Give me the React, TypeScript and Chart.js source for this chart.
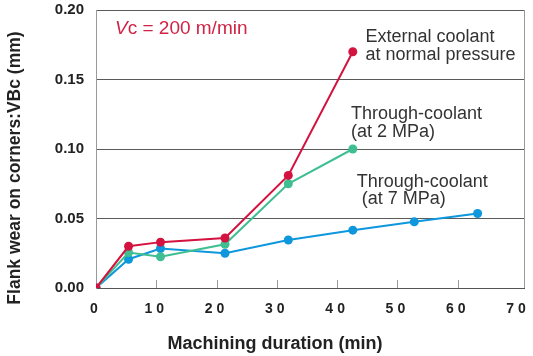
import React, { useEffect, useRef } from "react";
import { Chart, registerables } from "chart.js";

Chart.register(...registerables);

// ---- data ----
const externalX = [0, 5.4, 10.7, 21.4, 31.9, 42.6];
const externalY = [0, 0.03, 0.033, 0.036, 0.081, 0.17];
const through2X = [0, 5.4, 10.7, 21.4, 31.9, 42.6];
const through2Y = [0, 0.0255, 0.0225, 0.0315, 0.075, 0.1];
const through7X = [0, 5.4, 10.7, 21.4, 31.9, 42.6, 52.8, 63.3];
const through7Y = [0, 0.0207, 0.0284, 0.025, 0.0345, 0.0416, 0.0476, 0.0536];
const xTicks = [0, 10, 20, 30, 40, 50, 60, 70];
const yTicks = [0, 0.05, 0.1, 0.15, 0.2];
const xTitle = "Machining duration (min)";
const yTitle = "Flank wear on corners:VBc (mm)";

const RED = "#d3123f";
const GREEN = "#3fbf91";
const BLUE = "#0e97dc";

// annotation anchors in data units
const labels = [
  { lines: ["External coolant", "at normal pressure"], x: [44.7, 44.7], y: [0.1772, 0.164] },
  { lines: ["Through-coolant", "(at 2 MPa)"], x: [42.3, 42.3], y: [0.1214, 0.1086] },
  { lines: ["Through-coolant", "(at 7 MPa)"], x: [43.25, 44.1], y: [0.0729, 0.0602] },
];
const vcLabel = { x: 3.15, y: 0.1827 };

const FONT = "'Liberation Sans', Arial, Helvetica, sans-serif";

const decorPlugin = {
  id: "decor",
  beforeDraw(chart: any) {
    const xs = chart.scales.x;
    if (xs && !xs.__patched) {
      const orig = xs.drawLabels.bind(xs);
      xs.drawLabels = function (area: any) {
        const ctx = chart.ctx;
        ctx.save();
        (ctx as any).letterSpacing = "4px";
        orig(area);
        ctx.restore();
      };
      xs.__patched = true;
    }
  },
  beforeDatasetsDraw(chart: any) {
    const { ctx, chartArea, scales } = chart;
    const xs = scales.x;
    ctx.save();
    ctx.strokeStyle = "#9a9a9a";
    ctx.lineWidth = 1;
    // right border
    ctx.beginPath();
    ctx.moveTo(Math.round(chartArea.right) + 0.5, chartArea.top);
    ctx.lineTo(Math.round(chartArea.right) + 0.5, chartArea.bottom);
    ctx.stroke();
    // inner tick marks
    xTicks.forEach((v) => {
      if (v === 0 || v === 70) return;
      const px = Math.round(xs.getPixelForValue(v)) + 0.5;
      ctx.beginPath();
      ctx.moveTo(px, chartArea.bottom);
      ctx.lineTo(px, chartArea.bottom - 8);
      ctx.stroke();
    });
    ctx.restore();
  },
  afterDraw(chart: any) {
    const { ctx, scales } = chart;
    const xs = scales.x;
    const ys = scales.y;
    ctx.save();
    // axis titles
    ctx.fillStyle = "#222222";
    ctx.font = `bold 18px ${FONT}`;
    ctx.textAlign = "center";
    ctx.textBaseline = "middle";
    ctx.fillText(xTitle, 275, 344);
    ctx.save();
    ctx.translate(15, 168);
    ctx.rotate(-Math.PI / 2);
    ctx.font = `bold 17.5px ${FONT}`;
    ctx.fillText(yTitle, 0, 0);
    ctx.restore();

    ctx.textBaseline = "alphabetic";
    ctx.textAlign = "left";
    ctx.fillStyle = "#333333";
    ctx.font = `18px ${FONT}`;
    labels.forEach((l) => {
      l.lines.forEach((t, i) => {
        ctx.fillText(t, xs.getPixelForValue(l.x[i]), ys.getPixelForValue(l.y[i]));
      });
    });
    // Vc = 200 m/min
    const vx = xs.getPixelForValue(vcLabel.x);
    const vy = ys.getPixelForValue(vcLabel.y);
    ctx.fillStyle = "#d02345";
    ctx.font = `italic 19px ${FONT}`;
    ctx.fillText("V", vx, vy);
    const w = ctx.measureText("V").width;
    ctx.font = `19px ${FONT}`;
    ctx.fillText("c = 200 m/min", vx + w, vy);
    ctx.restore();
  },
};

export default function App() {
  const ref = useRef<HTMLCanvasElement>(null);
  useEffect(() => {
    document.body.style.margin = "0";
    const mk = (label: string, xs: number[], ys: number[], color: string) => ({
      label,
      data: xs.map((x, i) => ({ x, y: ys[i] })),
      borderColor: color,
      backgroundColor: color,
      borderWidth: 2,
      pointRadius: 4.5,
      pointBorderWidth: 0,
      pointBackgroundColor: color,
      tension: 0,
    });
    const chart = new Chart(ref.current!, {
      type: "line",
      data: {
        datasets: [
          mk("External coolant at normal pressure", externalX, externalY, RED),
          mk("Through-coolant (at 2 MPa)", through2X, through2Y, GREEN),
          mk("Through-coolant (at 7 MPa)", through7X, through7Y, BLUE),
        ],
      },
      options: {
        animation: false,
        responsive: false,
        maintainAspectRatio: false,
        layout: { padding: { top: 10, right: 9, left: 0, bottom: 0 } },
        plugins: { legend: { display: false }, tooltip: { enabled: false } },
        scales: {
          x: {
            type: "linear",
            min: 0,
            max: 71,
            afterBuildTicks: (s: any) => {
              s.ticks = xTicks.map((v) => ({ value: v }));
            },
            afterFit: (s: any) => {
              s.height = 68;
              s.paddingLeft = 0;
              s.paddingRight = 0;
            },
            grid: { display: false, drawTicks: false },
            border: { color: "#555555", width: 1 },
            ticks: {
              padding: 13,
              color: "#222222",
              font: { family: FONT, size: 14, weight: "bold" },
              maxRotation: 0,
              autoSkip: false,
            },
          },
          y: {
            type: "linear",
            min: 0,
            max: 0.2,
            afterBuildTicks: (s: any) => {
              s.ticks = yTicks.map((v) => ({ value: v }));
            },
            afterFit: (s: any) => {
              s.width = 96;
              s.paddingTop = 0;
              s.paddingBottom = 0;
            },
            grid: { color: "#5a5a5a", lineWidth: 1, drawTicks: false },
            border: { color: "#9a9a9a", width: 1 },
            ticks: {
              padding: 12,
              color: "#222222",
              font: { family: FONT, size: 15, weight: "bold" },
              callback: (v: any) => Number(v).toFixed(2),
            },
          },
        },
      },
      plugins: [decorPlugin],
    });
    return () => chart.destroy();
  }, []);
  return (
    <div style={{ width: 533, height: 356 }}>
      <canvas ref={ref} width={533} height={356} style={{ width: 533, height: 356, display: "block" }} />
    </div>
  );
}
